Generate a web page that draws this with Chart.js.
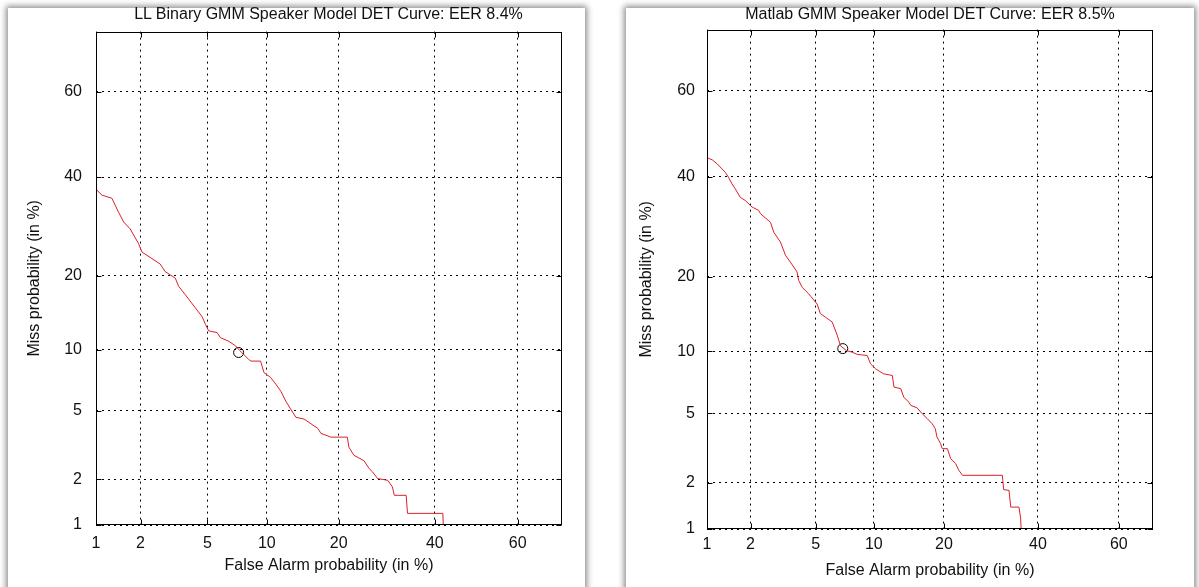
<!DOCTYPE html>
<html>
<head>
<meta charset="utf-8">
<script src="https://cdn.jsdelivr.net/npm/chart.js@4.4.1/dist/chart.umd.min.js"></script>
<style>
  html, body { margin: 0; padding: 0; }
  body { width: 1199px; height: 587px; overflow: hidden; background: #fff; position: relative; font-family: "Liberation Sans", Arial, sans-serif; }
  .card { position: absolute; background: #fff; box-shadow: 0 0 6px 2px rgba(0,0,0,0.45); }
  .card canvas { position: absolute; left: 0; top: 0; }
  .title { position: absolute; top: 5px; text-align: center; font-size: 16px; line-height: 18px; color: #111; white-space: nowrap; }
</style>
</head>
<body>
<div class="card" style="left:8px; top:8px; width:577px; height:600px;">
  <canvas id="chartLL" width="577" height="579"></canvas>
</div>
<div class="card" style="left:626px; top:8px; width:568px; height:600px;">
  <canvas id="chartMatlab" width="568" height="579"></canvas>
</div>
<div class="title" style="left:95px; width:467px;">LL Binary GMM Speaker Model DET Curve: EER 8.4%</div>
<div class="title" style="left:707px; width:446px;">Matlab GMM Speaker Model DET Curve: EER 8.5%</div>

<script>
// tick labels (in %)
const tickValues = [1, 2, 5, 10, 20, 40, 60];

// LL binary model: false alarm % / miss %
const llFalseAlarm = [1.0, 1.1, 1.29, 1.43, 1.55, 1.71, 1.94, 2.04, 2.3, 2.66, 2.85, 3.28, 3.43, 3.75, 4.28, 4.67, 4.88, 5.08, 5.64, 5.88, 6.5, 7.04, 7.4, 8.2, 8.4, 9.35, 9.7, 10.4, 11.0, 11.6, 12.2, 12.8, 13.5, 14.6, 15.6, 16.6, 17.1, 18.7, 21.5, 21.8, 22.7, 24.6, 25.6, 26.3, 27.3, 29.4, 30.4, 30.8, 33.4, 33.7, 41.9, 42.0];
const llMiss = [37.2, 35.9, 35.2, 32.2, 30.1, 28.7, 25.8, 24.2, 23.2, 22.0, 20.7, 19.6, 18.3, 17.0, 15.1, 13.9, 12.9, 12.1, 11.9, 11.3, 10.9, 10.4, 9.9, 9.0, 8.85, 8.85, 7.8, 7.4, 6.85, 6.3, 5.6, 5.1, 4.6, 4.5, 4.24, 4.0, 3.75, 3.57, 3.57, 3.12, 2.8, 2.6, 2.33, 2.22, 2.02, 1.97, 1.79, 1.58, 1.58, 1.2, 1.2, 1.0];
const llMarker = [7.3, 9.7];

// Matlab model
const mlFalseAlarm = [1.0, 1.09, 1.18, 1.35, 1.42, 1.5, 1.58, 1.71, 1.85, 2.05, 2.26, 2.32, 2.69, 2.82, 3.1, 3.33, 3.56, 3.9, 3.99, 4.18, 4.56, 5.09, 5.3, 5.66, 6.15, 6.54, 6.81, 7.3, 7.82, 8.3, 9.3, 9.65, 10.2, 10.6, 11.1, 12.2, 12.4, 13.3, 13.7, 14.4, 14.7, 15.6, 16.4, 17.2, 18.0, 18.5, 18.8, 19.4, 19.7, 20.6, 21.2, 22.1, 22.7, 23.4, 31.7, 32.0, 33.2, 33.6, 35.5, 35.9, 36.0];
const mlMiss = [44.4, 43.9, 43.0, 41.0, 39.9, 38.4, 37.3, 35.4, 34.7, 33.3, 32.6, 31.9, 30.1, 28.1, 26.2, 23.7, 22.5, 20.8, 19.4, 18.3, 17.3, 15.8, 14.5, 14.0, 13.4, 11.8, 10.6, 10.1, 9.93, 9.7, 9.59, 8.78, 8.33, 8.12, 7.89, 7.74, 6.8, 6.67, 6.06, 5.71, 5.49, 5.34, 4.97, 4.68, 4.39, 4.13, 3.71, 3.41, 3.19, 3.19, 2.79, 2.61, 2.38, 2.22, 2.22, 1.81, 1.79, 1.4, 1.4, 1.17, 1.0];
const mlMarker = [7.0, 10.3];

// inverse normal cdf (Acklam)
function probit(p) {
  const a = [-39.69683028665376, 220.9460984245205, -275.9285104469687, 138.3577518672690, -30.66479806614716, 2.506628277459239];
  const b = [-54.47609879822406, 161.5858368580409, -155.6989798598866, 66.80131188771972, -13.28068155288572];
  const c = [-0.007784894002430293, -0.3223964580411365, -2.400758277161838, -2.549732539343734, 4.374664141464968, 2.938163982698783];
  const d = [0.007784695709041462, 0.3224671290700398, 2.445134137142996, 3.754408661907416];
  let q, r;
  if (p < 0.02425) {
    q = Math.sqrt(-2 * Math.log(p));
    return (((((c[0]*q+c[1])*q+c[2])*q+c[3])*q+c[4])*q+c[5]) / ((((d[0]*q+d[1])*q+d[2])*q+d[3])*q+1);
  }
  if (p > 1 - 0.02425) {
    q = Math.sqrt(-2 * Math.log(1 - p));
    return -(((((c[0]*q+c[1])*q+c[2])*q+c[3])*q+c[4])*q+c[5]) / ((((d[0]*q+d[1])*q+d[2])*q+d[3])*q+1);
  }
  q = p - 0.5; r = q * q;
  return (((((a[0]*r+a[1])*r+a[2])*r+a[3])*r+a[4])*r+a[5])*q / (((((b[0]*r+b[1])*r+b[2])*r+b[3])*r+b[4])*r+1);
}

function normCdf(z) {
  const t = 1 / (1 + 0.2316419 * Math.abs(z));
  const dens = Math.exp(-z * z / 2) / Math.sqrt(2 * Math.PI);
  const p = dens * t * (0.319381530 + t * (-0.356563782 + t * (1.781477937 + t * (-1.821255978 + t * 1.330274429))));
  return z > 0 ? 1 - p : p;
}

// normal deviate axis, values in percent
class ProbitScale extends Chart.Scale {
  parse(raw) { const v = +raw; return isFinite(v) && v > 0 ? v : null; }
  determineDataLimits() { this.min = this.options.min; this.max = this.options.max; }
  buildTicks() { return tickValues.map(v => ({ value: v })); }
  configure() {
    super.configure();
    this._startValue = probit(this.min / 100);
    this._valueRange = probit(this.max / 100) - this._startValue;
  }
  getPixelForValue(v) {
    return this.getPixelForDecimal((probit(v / 100) - this._startValue) / this._valueRange);
  }
  getValueForPixel(px) {
    return 100 * normCdf(this._startValue + this.getDecimalForPixel(px) * this._valueRange);
  }
  getLabelForValue(v) { return String(v); }
}
ProbitScale.id = 'probit';
ProbitScale.defaults = {};
Chart.register(ProbitScale);

Chart.defaults.font.family = '"Liberation Sans", Arial, sans-serif';
Chart.defaults.color = '#111';

// matlab style box with inward ticks
const matlabBox = {
  id: 'matlabBox',
  afterDraw(chart) {
    const { ctx, chartArea: a, scales: { x, y } } = chart;
    const l = Math.round(a.left) + 0.5, r = Math.round(a.right) - 0.5;
    const t = Math.round(a.top) + 0.5, b = Math.round(a.bottom) - 0.5;
    ctx.save();
    ctx.strokeStyle = '#000';
    ctx.lineWidth = 1;
    ctx.strokeRect(l, t, r - l, b - t);
    ctx.beginPath();
    x.ticks.forEach(tk => {
      const px = Math.round(x.getPixelForValue(tk.value)) + 0.5;
      ctx.moveTo(px, b); ctx.lineTo(px, b - 5);
      ctx.moveTo(px, t); ctx.lineTo(px, t + 5);
    });
    y.ticks.forEach(tk => {
      const py = Math.round(y.getPixelForValue(tk.value)) + 0.5;
      ctx.moveTo(l, py); ctx.lineTo(l + 5, py);
      ctx.moveTo(r, py); ctx.lineTo(r - 5, py);
    });
    ctx.stroke();
    ctx.restore();
  }
};

function makeDet(id, fa, miss, marker, lay) {
  const curve = fa.map((v, i) => ({ x: v, y: miss[i] }));
  return new Chart(document.getElementById(id), {
    type: 'line',
    data: {
      datasets: [{
        data: curve,
        borderColor: '#dc1f2a',
        borderWidth: 1,
        pointRadius: 0,
        tension: 0,
        fill: false
      }, {
        data: [{ x: marker[0], y: marker[1] }],
        showLine: false,
        pointStyle: 'circle',
        pointRadius: 5,
        pointBorderColor: '#000',
        pointBackgroundColor: 'rgba(0,0,0,0)',
        pointBorderWidth: 1
      }]
    },
    options: {
      responsive: false,
      animation: false,
      events: [],
      layout: { padding: { top: lay.top, right: lay.right, left: 0, bottom: 0 } },
      plugins: { legend: { display: false }, tooltip: { enabled: false } },
      scales: {
        x: {
          type: 'probit',
          min: 1,
          max: lay.xMax,
          grid: { color: '#000', lineWidth: 1, drawTicks: false },
          border: { display: false, dash: [2, 4] },
          ticks: { padding: lay.xTickPad, font: { size: 16 }, color: '#111', maxRotation: 0, autoSkip: false },
          title: { display: true, text: 'False Alarm probability (in %)', font: { size: 16 }, color: '#111', padding: { top: 0, bottom: lay.xTitlePad } },
          afterFit(s) { s.height = lay.xHeight; }
        },
        y: {
          type: 'probit',
          min: 1,
          max: lay.yMax,
          grid: { color: '#000', lineWidth: 1, drawTicks: false },
          border: { display: false, dash: [2, 4] },
          ticks: { padding: lay.yTickPad, font: { size: 16 }, color: '#111', autoSkip: false },
          title: { display: true, text: 'Miss probability (in %)', font: { size: 16 }, color: '#111', padding: { top: lay.yTitlePad, bottom: 0 } },
          afterFit(s) { s.width = lay.yWidth; }
        }
      }
    },
    plugins: [matlabBox]
  });
}

makeDet('chartLL', llFalseAlarm, llMiss, llMarker, {
  top: 20, right: 23, xHeight: 62, yWidth: 88,
  xMax: 70, yMax: 73, xTickPad: 9, yTickPad: 14, xTitlePad: 12, yTitlePad: 17
});
makeDet('chartMatlab', mlFalseAlarm, mlMiss, mlMarker, {
  top: 20, right: 41, xHeight: 58, yWidth: 81,
  xMax: 68, yMax: 73, xTickPad: 6, yTickPad: 12, xTitlePad: 7, yTitlePad: 11
});
</script>
</body>
</html>
